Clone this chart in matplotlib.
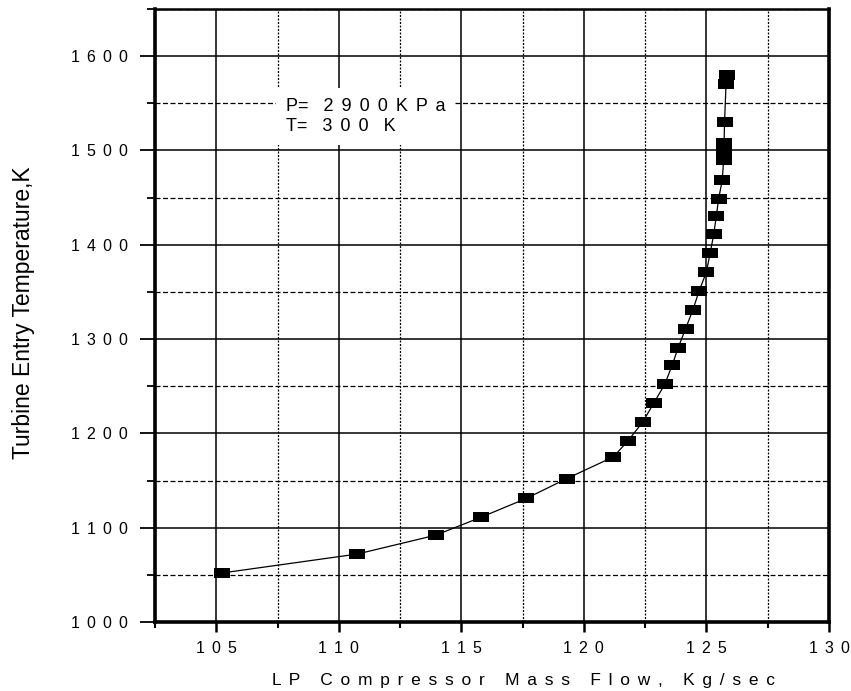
# IMPORTS

import matplotlib.pyplot as plt
from matplotlib.ticker import MultipleLocator, FixedLocator

# DATA

mass_flow = [105.25, 110.75, 113.95, 115.8, 117.65, 119.3, 121.2, 121.8, 122.4,
             122.85, 123.3, 123.6, 123.85, 124.15, 124.45, 124.7, 125.0, 125.15,
             125.3, 125.4, 125.5, 125.65, 125.7, 125.72, 125.72, 125.74, 125.8, 125.85]
turbine_temp = [1052, 1072, 1092, 1111, 1131, 1152, 1175, 1192, 1212,
                1232, 1252, 1272, 1291, 1311, 1331, 1351, 1371, 1391,
                1411, 1430, 1449, 1469, 1490, 1500, 1508, 1530, 1570, 1580]

x_ticks = [105, 110, 115, 120, 125, 130]
y_ticks = [1000, 1100, 1200, 1300, 1400, 1500, 1600]

x_title = 'LP Compressor Mass Flow, Kg/sec'
y_title = 'Turbine Entry Temperature,K'
pressure = '2900'
temperature = '300'

# letter-spaced look of the original
GAP = ' \u2006'


def spaced(s):
    return GAP.join(s)


# PLOT

plt.rcParams['font.family'] = ['Liberation Sans', 'DejaVu Sans']

fig = plt.figure(figsize=(8.51, 6.91), dpi=100)
ax = fig.add_axes([0.1821, 0.0999, 0.792, 0.8871])

rect = [(-1, -0.58), (1, -0.58), (1, 0.58), (-1, 0.58)]
ax.plot(mass_flow, turbine_temp, color='black', lw=0.9,
        marker=rect, markersize=11.5, markerfacecolor='black', markeredgewidth=0)

ax.set_xlim(102.5, 130)
ax.set_ylim(1000, 1650)

ax.xaxis.set_major_locator(FixedLocator(x_ticks))
ax.yaxis.set_major_locator(FixedLocator(y_ticks))
ax.xaxis.set_minor_locator(MultipleLocator(2.5))
ax.yaxis.set_minor_locator(MultipleLocator(50))
ax.set_xticklabels([spaced(str(v)) for v in x_ticks], fontsize=11.5)
ax.set_yticklabels([spaced(str(v)) for v in y_ticks], fontsize=11.5)

ax.grid(which='major', color='black', lw=1.1, ls='-')
ax.grid(which='minor', axis='y', color='black', lw=0.9, ls=(0, (4, 2)))
ax.grid(which='minor', axis='x', color='black', lw=0.9, ls=(0, (1.6, 1.2)))
ax.set_axisbelow(True)

for side in ['left', 'right', 'bottom']:
    ax.spines[side].set_linewidth(2.6)
ax.spines['top'].set_linewidth(1.8)

ax.tick_params(axis='x', which='major', direction='out', length=7.5, width=1.8, pad=6)
ax.tick_params(axis='x', which='minor', direction='out', length=4, width=1.5)
ax.tick_params(axis='y', which='major', direction='out', length=10.5, width=1.3, pad=9)
ax.tick_params(axis='y', which='minor', direction='out', length=6, width=1.3)

note = ('P=   ' + spaced(pressure + 'KPa') + '\n'
        + 'T=   ' + spaced(temperature) + '   K')
ax.text(107.85, 1536, note, fontsize=13, va='center', ha='left', linespacing=1.2,
        bbox=dict(facecolor='white', edgecolor='none', pad=7))

fig.text(524 / 851, 1 - 681 / 691, spaced(x_title), fontsize=12.5, ha='center', va='center')
fig.text(24 / 851, 1 - 313 / 691, y_title, rotation=90, fontsize=16.5,
         ha='center', va='center')

fig.savefig('out.png', dpi=100)
